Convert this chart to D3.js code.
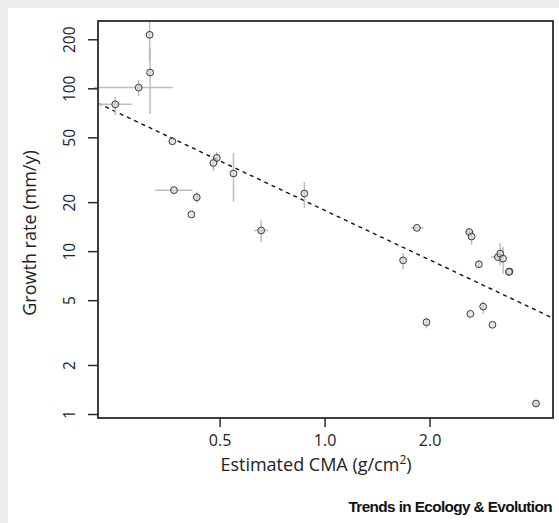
<!DOCTYPE html>
<html>
<head>
<meta charset="utf-8">
<script src="https://cdn.jsdelivr.net/npm/d3@7"></script>
<style>
  body { margin: 0; background: #ebecee; }
  svg { display: block; }
</style>
</head>
<body>
<div id="chart"></div>
<script>

// estimated CMA (g/cm2) and growth rate (mm/y)
var cmaVals    = [0.315, 0.316, 0.293, 0.251, 0.366, 0.48, 0.491, 0.548, 0.37, 0.43, 0.415, 0.658,
                  0.875, 1.84, 1.68, 2.6, 2.64, 2.77, 3.14, 3.19, 3.25, 3.39, 3.38, 2.85, 2.62, 1.96, 3.03, 4.04];
var growthVals = [213, 125, 101, 79.7, 47.3, 34.8, 37.4, 30, 23.7, 21.4, 16.8, 13.4,
                  22.6, 13.9, 8.78, 13.1, 12.3, 8.3, 9.2, 9.66, 9.0, 7.5, 7.45, 4.57, 4.12, 3.66, 3.53, 1.16];

// error ranges (null = no bar drawn)
var cmaLo    = [null, null, 0.218, 0.224, null, null, null, null, 0.327, 0.42, null, 0.628,
                null, 1.77, null, 2.53, null, null, 3.0, null, null, null, null, null, null, null, null, 3.95];
var cmaHi    = [null, null, 0.367, 0.28, null, null, null, null, 0.418, 0.44, null, 0.69,
                null, 1.92, null, 2.67, null, null, 3.26, null, null, null, null, null, null, null, null, 4.13];
var growthLo = [145, 69.5, 90, 68.5, null, 31, 34.7, 20.1, null, 19.8, null, 11.4,
                18.4, null, 7.73, 12.4, 11.0, 7.9, null, 8.18, 7.27, null, null, 4.14, null, 3.35, null, 1.11];
var growthHi = [258, 179.6, 112.5, 88.8, null, 38.5, 40.6, 40, null, 23.2, null, 15.5,
                26.5, null, 9.73, 13.9, 12.6, 8.8, null, 11.2, 10.6, null, null, 4.93, null, 3.93, null, 1.21];

var xTicks = [0.5, 1.0, 2.0];
var yTicks = [1, 2, 5, 10, 20, 50, 100, 200];

// log-log fit: log10(growth) = fitIntercept + fitSlope * log10(cma)
var fitIntercept = 1.251;
var fitSlope = -1.011;

var width = 559, height = 523;
var plotLeft = 98, plotRight = 553, plotTop = 21, plotBottom = 418;

var svg = d3.select("#chart")
  .append("svg")
  .attr("width", width)
  .attr("height", height);

// white panel (grey strip shows on top and left)
svg.append("rect")
  .attr("x", 8)
  .attr("y", 8)
  .attr("width", width - 8)
  .attr("height", height - 8)
  .attr("fill", "#ffffff");

var x = d3.scaleLog()
  .domain([0.224, 4.52])
  .range([plotLeft, plotRight]);

var y = d3.scaleLog()
  .domain([0.945, 259])
  .range([plotBottom, plotTop]);

// regression line
var fitLine = d3.line()
  .x(function (d) { return x(d); })
  .y(function (d) { return y(Math.pow(10, fitIntercept + fitSlope * Math.log10(d))); });

svg.append("path")
  .datum(x.domain())
  .attr("d", fitLine)
  .attr("fill", "none")
  .attr("stroke", "#111")
  .attr("stroke-width", 1.4)
  .attr("stroke-dasharray", "4,4");

var idx = d3.range(cmaVals.length);

// horizontal error bars
svg.append("g")
  .selectAll("line")
  .data(idx.filter(function (i) { return cmaLo[i] !== null; }))
  .enter()
  .append("line")
  .attr("x1", function (i) { return x(cmaLo[i]); })
  .attr("x2", function (i) { return x(cmaHi[i]); })
  .attr("y1", function (i) { return y(growthVals[i]); })
  .attr("y2", function (i) { return y(growthVals[i]); })
  .attr("stroke", "#bdbdbd")
  .attr("stroke-width", 1.5);

// vertical error bars
svg.append("g")
  .selectAll("line")
  .data(idx.filter(function (i) { return growthLo[i] !== null; }))
  .enter()
  .append("line")
  .attr("x1", function (i) { return x(cmaVals[i]); })
  .attr("x2", function (i) { return x(cmaVals[i]); })
  .attr("y1", function (i) { return y(growthLo[i]); })
  .attr("y2", function (i) { return y(growthHi[i]); })
  .attr("stroke", "#bdbdbd")
  .attr("stroke-width", 1.5);

// points
svg.append("g")
  .selectAll("circle")
  .data(idx)
  .enter()
  .append("circle")
  .attr("cx", function (i) { return x(cmaVals[i]); })
  .attr("cy", function (i) { return y(growthVals[i]); })
  .attr("r", 3.4)
  .attr("fill", "#d6d6d6")
  .attr("fill-opacity", 0.6)
  .attr("stroke", "#3a3a3a")
  .attr("stroke-width", 1);

// frame
svg.append("rect")
  .attr("x", plotLeft)
  .attr("y", plotTop)
  .attr("width", plotRight - plotLeft)
  .attr("height", plotBottom - plotTop)
  .attr("fill", "none")
  .attr("stroke", "#2a2a2a")
  .attr("stroke-width", 1.8);

// y axis, labels turned like R's las=0
var yAxis = svg.append("g")
  .attr("transform", "translate(" + plotLeft + ",0)")
  .call(d3.axisLeft(y).tickValues(yTicks).tickSize(10).tickFormat(d3.format("d")));
yAxis.select(".domain").remove();
yAxis.selectAll("line").attr("stroke", "#2a2a2a").attr("stroke-width", 1.5);
yAxis.selectAll("text")
  .attr("x", 0)
  .attr("y", 0)
  .attr("dy", "0.36em")
  .attr("text-anchor", "middle")
  .attr("transform", "translate(-29,0) rotate(-90)")
  .style("font-family", "'Open Sans', sans-serif")
  .style("font-size", "15.5px")
  .attr("fill", "#222");

var xAxis = svg.append("g")
  .attr("transform", "translate(0," + plotBottom + ")")
  .call(d3.axisBottom(x).tickValues(xTicks).tickSize(9).tickFormat(d3.format(".1f")));
xAxis.select(".domain").remove();
xAxis.selectAll("line").attr("stroke", "#2a2a2a").attr("stroke-width", 1.5);
xAxis.selectAll("text")
  .attr("y", 22)
  .attr("dy", "0.36em")
  .style("font-family", "'Open Sans', sans-serif")
  .style("font-size", "16px")
  .attr("fill", "#222");

// axis titles
var xTitle = svg.append("text")
  .attr("x", 316)
  .attr("y", 471)
  .attr("text-anchor", "middle")
  .style("font-family", "'Open Sans', sans-serif")
  .style("font-size", "18px")
  .attr("fill", "#222");
xTitle.append("tspan").text("Estimated CMA (g/cm");
xTitle.append("tspan").attr("dy", -7).style("font-size", "12px").text("2");
xTitle.append("tspan").attr("dy", 7).text(")");

svg.append("text")
  .attr("transform", "translate(30,233) rotate(-90)")
  .attr("dy", "0.36em")
  .attr("text-anchor", "middle")
  .style("font-family", "'Open Sans', sans-serif")
  .style("font-size", "18px")
  .attr("fill", "#222")
  .text("Growth rate (mm/y)");

// journal credit
svg.append("text")
  .attr("x", 552)
  .attr("y", 512)
  .attr("text-anchor", "end")
  .style("font-family", "'Liberation Sans', Arial, sans-serif")
  .style("font-weight", "bold")
  .style("font-size", "15.3px")
  .style("letter-spacing", "-0.6px")
  .attr("fill", "#111")
  .text("Trends in Ecology & Evolution");

</script>
</body>
</html>
